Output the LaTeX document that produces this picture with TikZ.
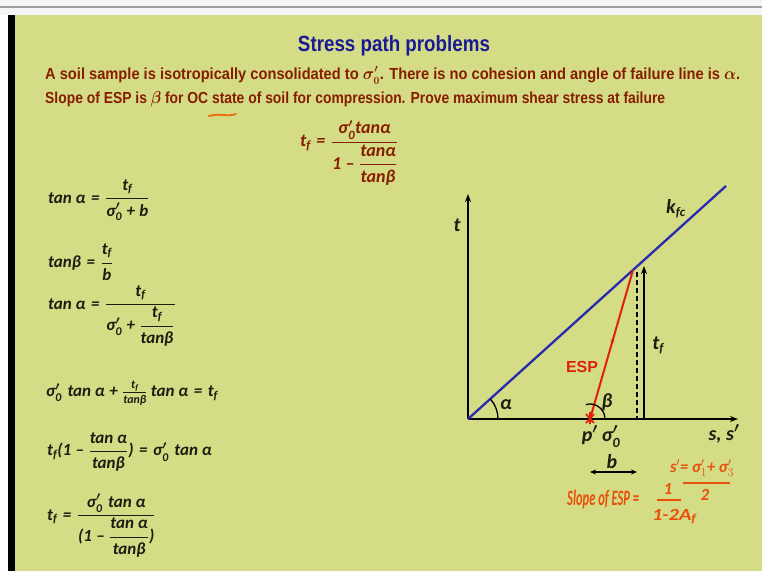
\documentclass[tikz,border=0pt]{standalone}
\usepackage{fontspec}
\usepackage{amsmath}
\usepackage{graphicx}
\setmainfont{Liberation Sans}
\newfontfamily\eqf{Carlito}
\usetikzlibrary{arrows.meta,decorations.markings}
\definecolor{bg}{HTML}{D5DC86}
\definecolor{ttl}{HTML}{1A1A96}
\definecolor{txt}{HTML}{861C00}
\definecolor{eqc}{HTML}{1C1C10}
\definecolor{esp}{HTML}{E0200F}
\definecolor{kline}{HTML}{2A2AB0}
\definecolor{hand}{HTML}{E8500C}
\newcommand{\E}[1]{\text{\eqf\bfseries\itshape #1}}
\newcommand{\tf}{\E{t}_{\E{f}}}
\newcommand{\sz}{\E{σ}'_{\E{0}}}
\newcommand{\eq}{\mathrel{\E{=}}}
\newcommand{\pl}{\mathbin{\E{+}}}
\newcommand{\mi}{\mathbin{\E{–}}}
\begin{document}
\begin{tikzpicture}[x=1pt,y=-1pt,
  lbl/.style={font=\eqf\bfseries\itshape\fontsize{20}{20}\selectfont\boldmath, text=eqc, inner sep=0pt},
  eqn/.style={anchor=west, inner sep=0pt, text=eqc, font=\fontsize{17}{19}\selectfont\boldmath},
  para/.style={anchor=base west, inner sep=0pt, text=txt, font=\bfseries\fontsize{16}{16}\selectfont\boldmath},
  handw/.style={text=hand, inner sep=0pt, font=\eqf\bfseries\itshape\fontsize{17}{17}\selectfont},
  axis/.style={line width=2.2pt, -{Stealth[length=8pt,width=6pt]}}]
\useasboundingbox (0,0) rectangle (762,571);
% frame
\fill[bg] (0,0) rectangle (762,571);
\fill[white!92!gray] (0,0) rectangle (762,15);
\fill[gray!75] (0,5.5) rectangle (762,8);
\fill[white] (0,15) rectangle (8,571);
\fill[black] (8,15) rectangle (15,571);
% title and statement
\node[anchor=base, inner sep=0pt, text=ttl, font=\bfseries\fontsize{22}{22}\selectfont] (title) at (394,51) {\resizebox{192pt}{\height}{Stress path problems}};
\node[para] (l1) at (45,79) {\resizebox{695pt}{\height}{A soil sample is isotropically consolidated to $\sigma'_0$. There is no cohesion and angle of failure line is $\alpha$.}};
\node[para] (l2) at (45,103) {\resizebox{620pt}{\height}{Slope of ESP is $\beta$ for OC state of soil for compression. Prove maximum shear stress at failure}};
\draw[hand!85!yellow, line width=1.8pt, line cap=round] (209,116) .. controls (220,113) and (228,117) .. (236,114);
% result formula
\node[anchor=west, inner sep=0pt, text=txt, font=\fontsize{18}{20}\selectfont\boldmath] (res) at (300,153)
  {$\tf \eq \dfrac{\sz\E{tanα}}{\E{1} \mi \dfrac{\E{tanα}}{\E{tanβ}}}$};
% derivation
\node[eqn] (e1) at (48,200) {$\E{tan α} \eq \dfrac{\tf}{\sz \pl \E{b}}$};
\node[eqn] (e2) at (48,262) {$\E{tanβ} \eq \dfrac{\tf}{\E{b}}$};
\node[eqn] (e3) at (48,316) {$\E{tan α} \eq \dfrac{\tf}{\sz \pl \dfrac{\tf}{\E{tanβ}}}$};
\node[eqn] (e4) at (46,393) {$\sz\;\E{tan α} \pl \tfrac{\tf}{\E{tanβ}}\,\E{tan α} \eq \tf$};
\node[eqn] (e5) at (47,452) {$\tf\E{(1} \mi \dfrac{\E{tan α}}{\E{tanβ}}\E{)} \eq \sz\;\E{tan α}$};
\node[eqn] (e6) at (47,526) {$\tf \eq \dfrac{\sz\;\E{tan α}}{\E{(1} \mi \dfrac{\E{tan α}}{\E{tanβ}}\E{)}}$};
% graph
\coordinate (O) at (468,419);
\coordinate (T) at (468,194);
\coordinate (S) at (738,419);
\coordinate (P) at (590,419);
\coordinate (F) at (633,270);
\coordinate (K) at (726,186);
\coordinate (D1) at (637,272);
\coordinate (D2) at (637,419);
\coordinate (A1) at (644,419);
\coordinate (A2) at (644,266);
\coordinate (B1) at (590,472);
\coordinate (B2) at (637,472);
\draw[axis] (O) -- (T);
\draw[axis] (O) -- (S);
\draw[kline, line width=2.3pt] (O) -- (K);
\draw[esp, line width=2pt, decoration={markings, mark=at position 0.55 with {\arrow{Stealth[length=5pt,width=4pt]}}}, postaction=decorate] (P) -- (F);
\draw[line width=1.8pt, dash pattern=on 5pt off 3pt] (D1) -- (D2);
\draw[line width=1.6pt, -{Stealth[length=8pt,width=6pt]}] (A1) -- (A2);
\draw[line width=1.3pt] (498,419) arc[start angle=0, end angle=-42, radius=30];
\draw[line width=1.3pt] (605,419) arc[start angle=0, end angle=-106, radius=15];
\draw[esp, line width=1.8pt] (586,414) -- (594,423) (586,423) -- (594,414) (590,412) -- (590,424);
\draw[line width=1.6pt, {Stealth[length=6pt,width=5pt]}-{Stealth[length=6pt,width=5pt]}] (B1) -- (B2);
\node[lbl] (tl) at (457,225) {t};
\node[lbl, anchor=west] (kl) at (666,209) {k\raisebox{-3pt}{\fontsize{13}{13}\selectfont fc}};
\node[lbl] (tfl) at (658,345) {t\raisebox{-3pt}{\fontsize{13}{13}\selectfont f}};
\node[lbl] (al) at (506,405) {α};
\node[lbl] (bl) at (607,402) {β};
\node[lbl] (pl) at (601,437) {$\E{p}'\,\sz$};
\node[lbl] (sl) at (724,434) {$\E{s, s}'$};
\node[lbl] (bb) at (612,462) {b};
\node[text=esp, inner sep=0pt, font=\bfseries\fontsize{16}{16}\selectfont] (espl) at (582,367) {ESP};
% handwritten notes
\node[handw, anchor=base west, font=\eqf\bfseries\itshape\fontsize{22}{22}\selectfont] (h1) at (567,505) {\resizebox{72pt}{\height}{Slope of ESP =}};
\node[handw] (h2) at (668,489) {1};
\draw[hand, line width=1.5pt] (657,500) -- (681,500);
\node[handw] (h3) at (674,517) {\resizebox{44pt}{\height}{1-2A\raisebox{-2pt}{\fontsize{12}{12}\selectfont f}}};
\node[handw] (h4) at (702,468) {\resizebox{64pt}{\height}{s$'$= σ$'_1$+ σ$'_3$}};
\draw[hand, line width=1.5pt] (683,483) -- (730,483);
\node[handw] (h5) at (705,495) {2};
\end{tikzpicture}
\end{document}
